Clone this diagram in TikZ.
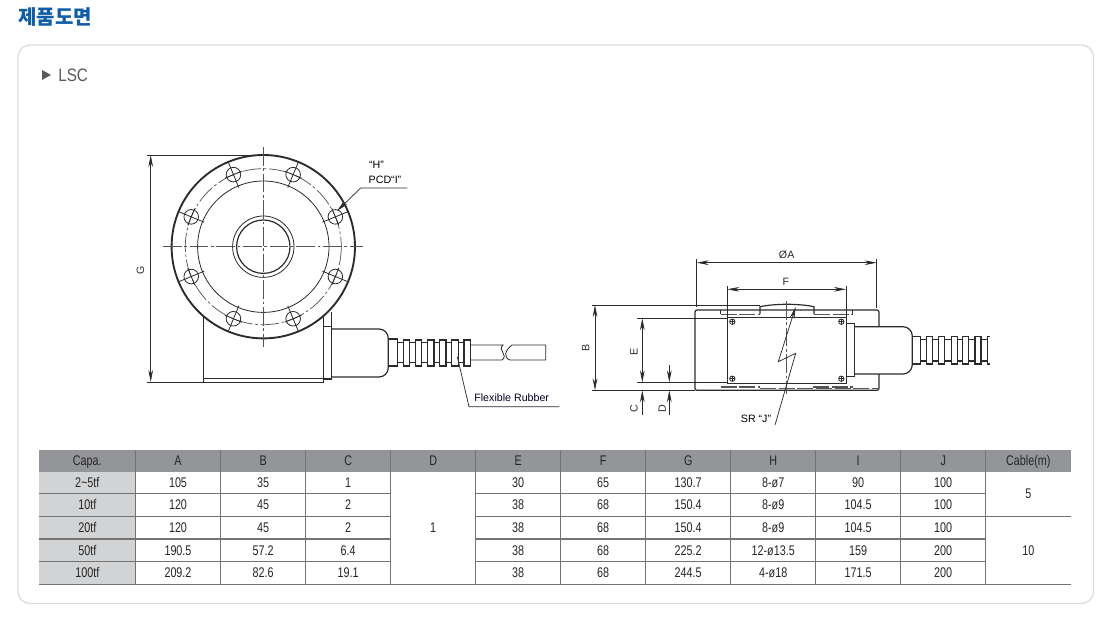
\documentclass[tikz,border=0pt]{standalone}
\usepackage{fontspec}
\setmainfont{Liberation Sans}
\newfontfamily\krfont{Noto Sans CJK KR}
\newfontfamily\tablefont{Liberation Sans}[FakeStretch=0.77]
\newfontfamily\panelfont{Liberation Sans}[FakeStretch=0.85]
\usetikzlibrary{arrows.meta,calc}
\definecolor{inkline}{HTML}{2B2B2B}
\definecolor{headgray}{HTML}{939598}
\definecolor{capagray}{HTML}{D1D3D4}
\definecolor{panelgray}{HTML}{DCDCDC}
\definecolor{titleblue}{HTML}{0F5CA8}
\definecolor{lsctext}{HTML}{58595B}
\tikzset{
  part/.style={draw=inkline, line width=0.9pt},
  thinpart/.style={draw=inkline, line width=0.6pt},
  hidden/.style={draw=inkline!80, line width=0.7pt, dash pattern=on 12pt off 2pt},
  centerline/.style={draw=inkline!80, line width=0.55pt, dash pattern=on 14pt off 2pt on 2pt off 2pt},
  dimline/.style={draw=inkline, line width=0.55pt, <->, >={Stealth[length=9pt,width=3.5pt]}},
  singledim/.style={draw=inkline, line width=0.55pt, ->, >={Stealth[length=9pt,width=3.5pt]}},
  extline/.style={draw=inkline, line width=0.55pt},
  dimtext/.style={font=\fontsize{8}{9.6}\selectfont, text=inkline, inner sep=0pt},
  cell/.style={font=\tablefont\fontsize{10.5}{12}\selectfont, text=black!85, inner sep=0pt, anchor=base},
  tablerule/.style={draw=black!55, line width=0.8pt}
}
\begin{document}
\begin{tikzpicture}[x=0.75pt,y=-0.75pt]
\useasboundingbox (0,0) rectangle (1115,617);

%% title and panel
\node[font=\krfont\bfseries\fontsize{15}{17}\selectfont, text=titleblue, inner sep=0pt, anchor=west] (title) at (18,17) {제품도면};
\draw[panelgray, line width=1pt, rounded corners=9pt] (18,45) rectangle (1093.5,603.5);
\fill[lsctext] (42,70) -- (51,75) -- (42,80) -- cycle;
\node[font=\panelfont\fontsize{13.5}{15}\selectfont, text=lsctext, inner sep=0pt, anchor=west] (lsc) at (58,75.5) {LSC};

%% front view: body under the flange
\draw[part] (203.3,310) -- (203.3,382.7) -- (323.3,382.7) -- (323.3,310);
\draw[thinpart] (203.3,378) -- (323.3,378);
\draw[part] (323.3,326.7) -- (331.7,326.7) -- (331.7,379) -- (323.3,379);
\draw[thinpart] (331.7,312) -- (331.7,326.7);
\draw[part, rounded corners=7pt] (331.7,329) -- (388.3,329) -- (388.3,377) -- (331.7,377);
\draw[part] (388.3,339) -- (397.3,339) -- (397.3,366) -- (388.3,366);
\draw[part] (397.3,342.7) -- (470,342.7);
\draw[part] (397.3,362.7) -- (470,362.7);
\foreach \rx in {403.3,415.4,427.5,439.6,451.7,464}
  \draw[part, fill=white] (\rx,340) rectangle ++(6.4,26);

%% cable and break
\draw[thinpart] (470.7,345) -- (503,345) .. controls (497,350) and (509,355) .. (502,360) -- (470.7,360);
\draw[thinpart] (545.7,345) -- (512,345) .. controls (505,350) and (503,358) .. (510,360) -- (545.7,360) -- cycle;

%% front view: flange
\begin{scope}[shift={(263.3,246.7)}]
\draw[part, fill=white, line width=1.4pt] (0,0) circle [radius=91.7];
\draw[thinpart] (0,0) circle [radius=65.7];
\draw[thinpart] (0,0) circle [radius=30.7];
\draw[part] (0,0) circle [radius=26.7];
\draw[centerline] (0,0) circle [radius=78];
\foreach \ang in {22.5,67.5,112.5,157.5,202.5,247.5,292.5,337.5} {
  \draw[thinpart] (\ang:78) circle [radius=7.3];
  \draw[thinpart] (\ang:64) -- (\ang:91);
  \draw[thinpart] ($(\ang:78)+(\ang+90:9)$) -- ($(\ang:78)+(\ang-90:9)$);
}
\end{scope}
\draw[centerline] (163,246.7) -- (363,246.7);
\draw[centerline] (263.3,147) -- (263.3,347);

%% front view: dimensions and leaders
\draw[extline] (147,155) -- (263,155);
\draw[extline] (147,382) -- (203,382);
\coordinate (gtop) at (150.7,155);
\coordinate (gbot) at (150.7,382);
\draw[dimline] (gtop) -- (gbot);
\node[dimtext, rotate=90] (glabel) at (140.5,270) {G};
\node[dimtext, text=black] (hlabel) at (376.5,165) {“H”};
\node[dimtext, text=black] (pcdlabel) at (385,180) {PCD“I”};
\coordinate (pcdend) at (407.3,188);
\coordinate (pcdbend) at (360.7,188);
\draw[singledim] (pcdend) -- (pcdbend) -- (337,211);
\coordinate (rubberend) at (559.3,406.7);
\coordinate (rubberbend) at (469,406.7);
\draw[extline] (rubberend) -- (rubberbend) -- (457.3,356.7);
\node[dimtext, text=black!85!blue] (rubberlabel) at (511.7,398) {Flexible Rubber};

%% side view: housing
\draw[part, rounded corners=1.5pt] (879,326.7) -- (879,310) -- (695,310) -- (695,390.3) -- (879,390.3) -- (879,374);
\draw[thinpart] (727.3,317.3) rectangle (846,383.3);
\draw[thinpart] (846,323.3) -- (854.3,323.3) -- (854.3,376) -- (846,376);
\draw[part, rounded corners=7pt] (854.3,326.7) -- (912.3,326.7) -- (912.3,374) -- (854.3,374);
\draw[part] (912.3,336.7) -- (920.7,336.7) -- (920.7,364) -- (912.3,364);
\draw[part] (920.7,339.3) -- (990,339.3);
\draw[part] (920.7,361) -- (990,361);
\foreach \rx in {926.7,938.7,951.3,962.7,975,987.3}
  \draw[part, fill=white] (\rx,336.7) rectangle ++(6,27.3);
\fill[white] (990,335) rectangle (996,366);

%% side view: top bump and hidden edges
\draw[thinpart] (720.7,310) -- (720.7,314);
\draw[thinpart] (852.7,310) -- (852.7,314);
\draw[hidden] (720.7,314) -- (760,314);
\draw[hidden] (814,314) -- (852.7,314);
\draw[part] (760,314) -- (760,306.7) .. controls (775,303.5) and (799,303.5) .. (814,306.7) -- (814,314);
\draw[hidden, line width=1.1pt] (720.7,387) -- (760,387);
\draw[hidden, line width=1.1pt] (813,387) -- (852.7,387);
\draw[hidden] (760,388.5) -- (878,388.5);
\foreach \sx/\sy in {732.3/321.7,841.3/321.7,732.3/378.7,841.3/378.7} {
  \draw[thinpart] (\sx,\sy) circle [radius=2.7];
  \draw[thinpart] (\sx-2.7,\sy) -- (\sx+2.7,\sy);
  \draw[thinpart] (\sx,\sy-2.7) -- (\sx,\sy+2.7);
}
\draw[centerline] (786.7,301) -- (786.7,394);

%% side view: dimensions
\draw[extline] (696.7,259) -- (696.7,306.7);
\draw[extline] (876.7,259) -- (876.7,308);
\draw[dimline] (696.7,262.7) -- (876.7,262.7);
\node[dimtext] (alabel) at (786.7,255) {ØA};
\draw[extline] (727.3,285.7) -- (727.3,317);
\draw[extline] (846,285.7) -- (846,317);
\draw[dimline] (727.3,289.3) -- (846,289.3);
\node[dimtext] (flabel) at (786,281.7) {F};
\draw[extline] (591.7,305) -- (760,305);
\draw[extline] (591.7,390.3) -- (695,390.3);
\draw[dimline] (595,305) -- (595,390.3);
\node[dimtext, rotate=90] (blabel) at (585.7,348.3) {B};
\draw[extline] (637.3,318.3) -- (727.3,318.3);
\draw[extline] (637.3,382.3) -- (727.3,382.3);
\draw[dimline] (642.3,318.3) -- (642.3,382.3);
\node[dimtext, rotate=90] (elabel) at (634,352.3) {E};
\draw[singledim] (642.3,415) -- (642.3,390.3);
\node[dimtext, rotate=90] (clabel) at (634,409) {C};
\draw[singledim] (669.3,365) -- (669.3,382.3);
\draw[singledim] (669.3,415) -- (669.3,390.3);
\node[dimtext, rotate=90] (dlabel) at (662.3,409) {D};
\node[dimtext, text=black] (srlabel) at (756,419) {SR “J”};
\draw[singledim] (775,425) -- (795.7,353.3) -- (778.3,361.7) -- (795.7,306.7);

%% table
\fill[headgray] (39.3,450) rectangle (1071,471.7);
\fill[capagray] (39.3,471.7) rectangle (135.3,584.3);
\foreach \rowy in {493.3,516.3,539,561.7} {
  \draw[tablerule] (39.3,\rowy) -- (390.7,\rowy);
  \draw[tablerule] (475.7,\rowy) -- (985.7,\rowy);
}
\draw[tablerule] (985.7,516.3) -- (1071,516.3);
\draw[tablerule] (39.3,584.3) -- (1071,584.3);
\foreach \colx in {135.3,220.7,305.7,390.7,475.7,560.7,645.7,730.7,815.7,900.7,985.7}
  \draw[tablerule] (\colx,450) -- (\colx,584.3);

\foreach \col/\cx/\hdr/\ra/\rb/\rc/\rd/\re in {
  capa/87.3/Capa./2\textasciitilde 5tf/10tf/20tf/50tf/100tf,
  coA/178/A/105/120/120/190.5/209.2,
  coB/263.2/B/35/45/45/57.2/82.6,
  coC/348.2/C/1/2/2/6.4/19.1,
  coE/518.2/E/30/38/38/38/38,
  coF/603.2/F/65/68/68/68/68,
  coG/688.2/G/130.7/150.4/150.4/225.2/244.5,
  coH/773.2/H/8-ø7/8-ø9/8-ø9/12-ø13.5/4-ø18,
  coI/858.2/I/90/104.5/104.5/159/171.5,
  coJ/943.2/J/100/100/100/200/200} {
  \node[cell] (\col-h) at (\cx,465.5) {\hdr};
  \node[cell] (\col-a) at (\cx,487.3) {\ra};
  \node[cell] (\col-b) at (\cx,509.5) {\rb};
  \node[cell] (\col-c) at (\cx,532.3) {\rc};
  \node[cell] (\col-d) at (\cx,555) {\rd};
  \node[cell] (\col-e) at (\cx,577.5) {\re};
}
\node[cell] (coD-h) at (433.2,465.5) {D};
\node[cell] (coD-a) at (433.2,532.3) {1};
\node[cell] (cable-h) at (1028.3,465.5) {Cable(m)};
\node[cell] (cable-a) at (1028.3,498.5) {5};
\node[cell] (cable-b) at (1028.3,555) {10};

\end{tikzpicture}
\end{document}
